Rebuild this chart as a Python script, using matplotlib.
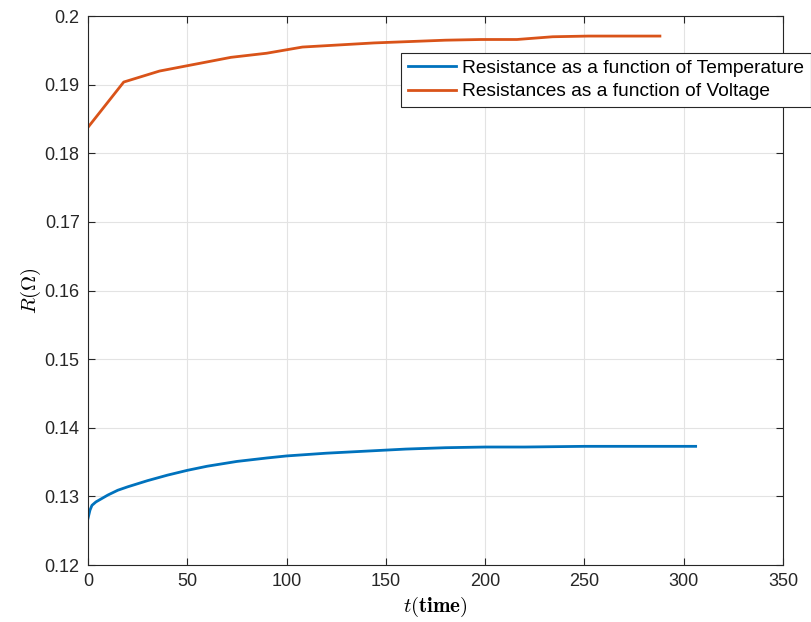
import matplotlib
matplotlib.use("Agg")
import matplotlib.pyplot as plt
from matplotlib.ticker import FuncFormatter

plt.rcParams['font.family'] = ['Liberation Sans', 'DejaVu Sans']
plt.rcParams['mathtext.fontset'] = 'cm'

# resistance from temperature (smooth curve)
t_temp = [0, 1, 2, 4, 7, 10, 15, 20, 30, 40, 50, 60, 75, 90, 100,
          120, 140, 160, 180, 200, 220, 250, 280, 306]
r_temp = [0.1268, 0.1280, 0.1287, 0.1292, 0.1297, 0.1302, 0.1309, 0.1314,
          0.1323, 0.1331, 0.1338, 0.1344, 0.1351, 0.1356, 0.1359, 0.1363,
          0.1366, 0.1369, 0.1371, 0.1372, 0.1372, 0.1373, 0.1373, 0.1373]

# resistance from voltage (sampled every 18 s)
t_volt = [0, 18, 36, 54, 72, 90, 108, 126, 144, 162, 180, 198, 216,
          234, 252, 270, 288]
r_volt = [0.1838, 0.1904, 0.1920, 0.1930, 0.1940, 0.1946, 0.1955, 0.1958,
          0.1961, 0.1963, 0.1965, 0.1966, 0.1966, 0.1970, 0.1971, 0.1971,
          0.1971]

xticks = [0, 50, 100, 150, 200, 250, 300, 350]
yticks = [0.12, 0.13, 0.14, 0.15, 0.16, 0.17, 0.18, 0.19, 0.2]

fig = plt.figure(figsize=(8.11, 6.22), dpi=100)
ax = fig.add_axes([0.1085, 0.0916, 0.857, 0.8824])

ax.plot(t_temp, r_temp, color='#0072BD', lw=2,
        label='Resistance as a function of Temperature')
ax.plot(t_volt, r_volt, color='#D95319', lw=2,
        label='Resistances as a function of Voltage')

ax.set_xlim(0, 350)
ax.set_ylim(0.12, 0.2)
ax.set_xticks(xticks)
ax.set_yticks(yticks)
ax.yaxis.set_major_formatter(FuncFormatter(lambda v, p: '%g' % round(v, 3)))

ax.grid(True, color='#e3e3e3', lw=0.8)
ax.set_axisbelow(True)
for s in ax.spines.values():
    s.set_color('#262626')
    s.set_linewidth(0.8)
ax.tick_params(direction='in', top=True, right=True, length=5,
               labelsize=13, colors='#262626', width=0.8, pad=6)

ax.set_xlabel(r'$t(\mathbf{time})$', fontsize=15, labelpad=3)
ax.set_ylabel(r'$R(\Omega)$', fontsize=15, labelpad=1)

leg = ax.legend(loc='upper left', bbox_to_anchor=(401 / 811, 1 - 53 / 622),
                bbox_transform=fig.transFigure, fontsize=13.8,
                fancybox=False, framealpha=1, edgecolor='#262626',
                handlelength=2.5, handletextpad=0.35, labelspacing=0.3,
                borderpad=0.35, borderaxespad=0)
leg.get_frame().set_linewidth(0.8)
leg.set_in_layout(False)

fig.savefig('out.png', dpi=100)
